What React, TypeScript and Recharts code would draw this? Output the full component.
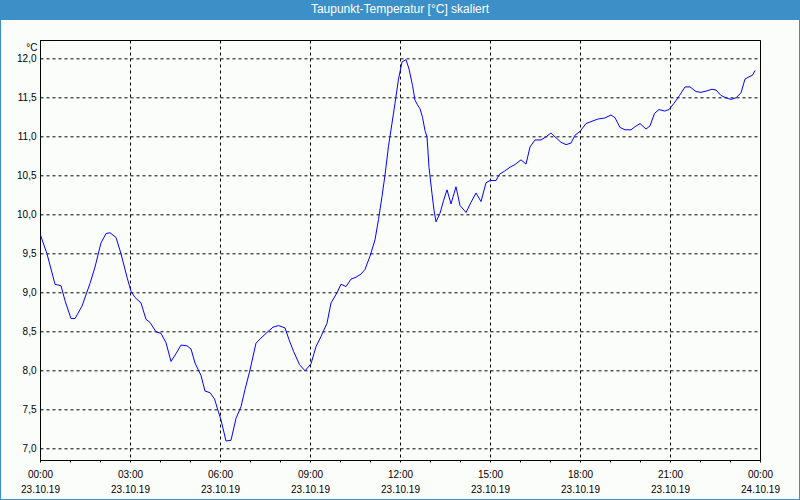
import React from 'react'
import { LineChart, Line, XAxis, YAxis, CartesianGrid, ReferenceArea, Label } from 'recharts'

// Taupunkt 23.10.19, minutes since 00:00 and °C
const minutes = [
  0, 13, 29, 41, 49, 61, 69, 83, 99, 109, 121, 131, 139, 151, 161, 173, 181, 189, 201, 211,
  219, 231, 241, 251, 261, 271, 281, 293, 301, 309, 321, 329, 339, 348, 356, 361, 371, 381, 391, 401,
  409, 419, 431, 441, 451, 465, 476, 489, 497, 506, 518, 529, 541, 551, 561, 573, 581, 593, 601, 611,
  621, 631, 641, 649, 659, 669, 676, 683, 689, 696, 703, 709, 716, 723, 731, 737, 744, 749, 754, 759,
  764, 769, 773, 777, 783, 787, 791, 799, 806, 813, 821, 831, 839, 851, 861, 871, 881, 891, 899, 911,
  918, 928, 939, 949, 961, 971, 979, 989, 1001, 1011, 1021, 1029, 1041, 1051, 1061, 1069, 1079, 1091, 1103, 1116,
  1128, 1141, 1149, 1159, 1169, 1181, 1189, 1199, 1211, 1219, 1228, 1237, 1248, 1257, 1267, 1278, 1289, 1299, 1311, 1321,
  1333, 1343, 1351, 1361, 1371, 1381, 1391, 1401, 1409, 1417, 1424, 1429,
]
const dewPoint = [
  9.74, 9.5, 9.11, 9.09, 8.9, 8.67, 8.67, 8.83, 9.12, 9.33, 9.64, 9.76, 9.77, 9.71, 9.5, 9.2, 9.02, 8.94, 8.87, 8.66,
  8.62, 8.5, 8.48, 8.36, 8.12, 8.22, 8.33, 8.32, 8.28, 8.1, 7.94, 7.74, 7.72, 7.64, 7.47, 7.37, 7.1, 7.11, 7.39, 7.54,
  7.76, 8.01, 8.355, 8.42, 8.48, 8.56, 8.58, 8.55, 8.4, 8.25, 8.08, 8.0, 8.09, 8.31, 8.44, 8.61, 8.87, 9.0, 9.11, 9.08,
  9.175, 9.2, 9.24, 9.3, 9.47, 9.68, 9.94, 10.235, 10.51, 10.88, 11.175, 11.43, 11.74, 11.96, 11.99, 11.87, 11.66, 11.47, 11.41, 11.36,
  11.25, 11.08, 11.0, 10.61, 10.27, 10.06, 9.91, 10.02, 10.18, 10.32, 10.14, 10.36, 10.12, 10.03, 10.16, 10.28, 10.17, 10.41, 10.44, 10.44,
  10.52, 10.56, 10.61, 10.645, 10.705, 10.65, 10.87, 10.96, 10.96, 11.0, 11.05, 11.0, 10.93, 10.9, 10.92, 11.02, 11.07, 11.17, 11.2, 11.23,
  11.24, 11.28, 11.245, 11.12, 11.09, 11.09, 11.13, 11.17, 11.1, 11.14, 11.3, 11.35, 11.33, 11.35, 11.43, 11.53, 11.64, 11.64, 11.58, 11.57,
  11.59, 11.61, 11.6, 11.53, 11.5, 11.48, 11.5, 11.565, 11.74, 11.77, 11.79, 11.85,
]

const yTicks = [7, 7.5, 8, 8.5, 9, 9.5, 10, 10.5, 11, 11.5, 12]
const hourTicks = [0, 60, 120, 180, 240, 300, 360, 420, 480, 540, 600, 660, 720, 780, 840, 900, 960, 1020, 1080, 1140, 1200, 1260, 1320, 1380, 1440]
const gridTicks = [0, 180, 360, 540, 720, 900, 1080, 1260, 1440]
const timeLabels = ['00:00', '03:00', '06:00', '09:00', '12:00', '15:00', '18:00', '21:00', '00:00']
const dateLabels = ['23.10.19', '23.10.19', '23.10.19', '23.10.19', '23.10.19', '23.10.19', '23.10.19', '23.10.19', '24.10.19']

const Y_MIN = 6.85
const Y_MAX = 12.235
const BLUE = '#3c8fc7'
const FONT = '"Liberation Sans", Arial, sans-serif'

const data = minutes.map((m, i) => ({ m, v: dewPoint[i] }))

function TimeTick({ x, y, payload }: any) {
  const idx = gridTicks.indexOf(payload.value)
  return (
    <g>
      <line x1={x} y1={y} x2={x} y2={y + 2} stroke="#000" />
      {idx >= 0 && (
        <>
          <text x={x} y={y + 17} textAnchor="middle" fontSize={10} fill="#000" fontFamily={FONT}>{timeLabels[idx]}</text>
          <text x={x} y={y + 32} textAnchor="middle" fontSize={10} fill="#000" fontFamily={FONT}>{dateLabels[idx]}</text>
        </>
      )}
    </g>
  )
}

function ValueTick({ x, y, payload }: any) {
  return (
    <text x={x} y={y} dy={3.5} textAnchor="end" fontSize={10} fill="#000" fontFamily={FONT}>
      {payload.value.toFixed(1).replace('.', ',')}
    </text>
  )
}

export default function App() {
  return (
    <div style={{ position: 'absolute', left: 0, top: 0, width: 800, height: 500, background: '#fbfdfb', overflow: 'hidden' }}>
      <div style={{ position: 'absolute', left: 0, top: 0, transform: 'translate(0.5px, 0.5px)' }}>
        <LineChart width={800} height={500} data={data} margin={{ top: 40, right: 40, bottom: 0, left: 0 }}>
          <CartesianGrid stroke="#000" strokeDasharray="3 3" verticalValues={gridTicks} />
          <XAxis
            dataKey="m"
            type="number"
            domain={[0, 1440]}
            ticks={hourTicks}
            interval={0}
            height={40}
            axisLine={false}
            tickLine={false}
            tickSize={0}
            tickMargin={0}
            tick={<TimeTick />}
          />
          <YAxis
            type="number"
            domain={[Y_MIN, Y_MAX]}
            ticks={yTicks}
            interval={0}
            width={40}
            axisLine={false}
            tickLine={false}
            tickSize={4}
            tickMargin={0}
            tick={<ValueTick />}
          >
            <Label value="°C" position="insideTopRight" offset={3} fontSize={10} fill="#000" fontFamily={FONT} />
          </YAxis>
          <ReferenceArea x1={0} x2={1440} y1={Y_MIN} y2={Y_MAX} fill="none" stroke="#000" strokeWidth={1} />
          <Line dataKey="v" type="linear" stroke="#0000ff" strokeWidth={1} dot={false} isAnimationActive={false} />
        </LineChart>
      </div>
      <div
        style={{
          position: 'absolute', left: 0, top: 0, width: 800, height: 20, background: BLUE, color: '#fff',
          fontFamily: FONT, fontSize: 12, lineHeight: '19px', textAlign: 'center',
        }}
      >
        Taupunkt-Temperatur [°C] skaliert
      </div>
      <div style={{ position: 'absolute', left: 0, top: 0, width: 800, height: 500, border: `1px solid ${BLUE}`, boxSizing: 'border-box', pointerEvents: 'none' }} />
    </div>
  )
}
